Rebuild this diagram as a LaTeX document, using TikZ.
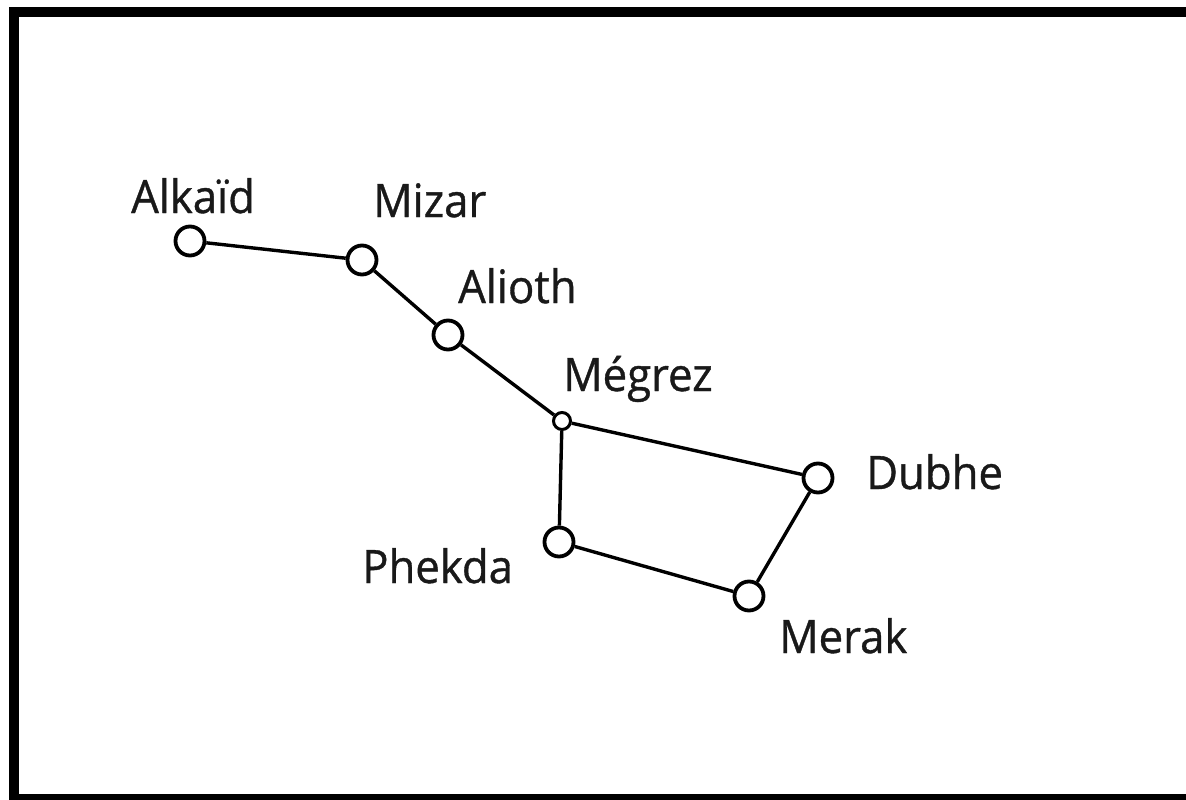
\documentclass[tikz,border=0pt]{standalone}
\usepackage{fontspec}
\setmainfont{Open Sans}[FakeStretch=0.95,FakeBold=0.8]
\begin{document}
\begin{tikzpicture}[x=1pt,y=-1pt,
  star/.style={circle,draw=black,line width=3.8pt,fill=white,inner sep=0pt,minimum size=29pt},
  smallstar/.style={circle,draw=black,line width=3pt,fill=white,inner sep=0pt,minimum size=17pt},
  link/.style={draw=black,line width=3.4pt},
  lbl/.style={anchor=base west,inner sep=0pt,text=black!90,font=\fontsize{46}{55}\selectfont},
  frame/.style={draw=black,line width=10pt}]
\useasboundingbox (0,0) rectangle (1186,800);
\clip (0,0) rectangle (1186,800);
\fill[white] (0,0) rectangle (1186,800);
\draw[frame] (14,12) rectangle (1220,799);
% stars
\node[star] (alkaid) at (190,241) {};
\node[star] (mizar) at (362,260) {};
\node[star] (alioth) at (448,335) {};
\node[smallstar] (megrez) at (562,421) {};
\node[star] (dubhe) at (818,478) {};
\node[star] (phekda) at (559,542) {};
\node[star] (merak) at (749,596) {};
% links
\draw[link] (alkaid) -- (mizar);
\draw[link] (mizar) -- (alioth);
\draw[link] (alioth) -- (megrez);
\draw[link] (megrez) -- (dubhe);
\draw[link] (megrez) -- (phekda);
\draw[link] (phekda) -- (merak);
\draw[link] (merak) -- (dubhe);
% labels
\node[lbl] (lalkaid) at (131,213) {Alkaïd};
\node[lbl] (lmizar) at (373,217) {Mizar};
\node[lbl] (lalioth) at (458,303) {Alioth};
\node[lbl] (lmegrez) at (563,391) {Mégrez};
\node[lbl] (ldubhe) at (866,489) {Dubhe};
\node[lbl] (lphekda) at (362,583) {Phekda};
\node[lbl] (lmerak) at (779,653) {Merak};
\end{tikzpicture}
\end{document}
